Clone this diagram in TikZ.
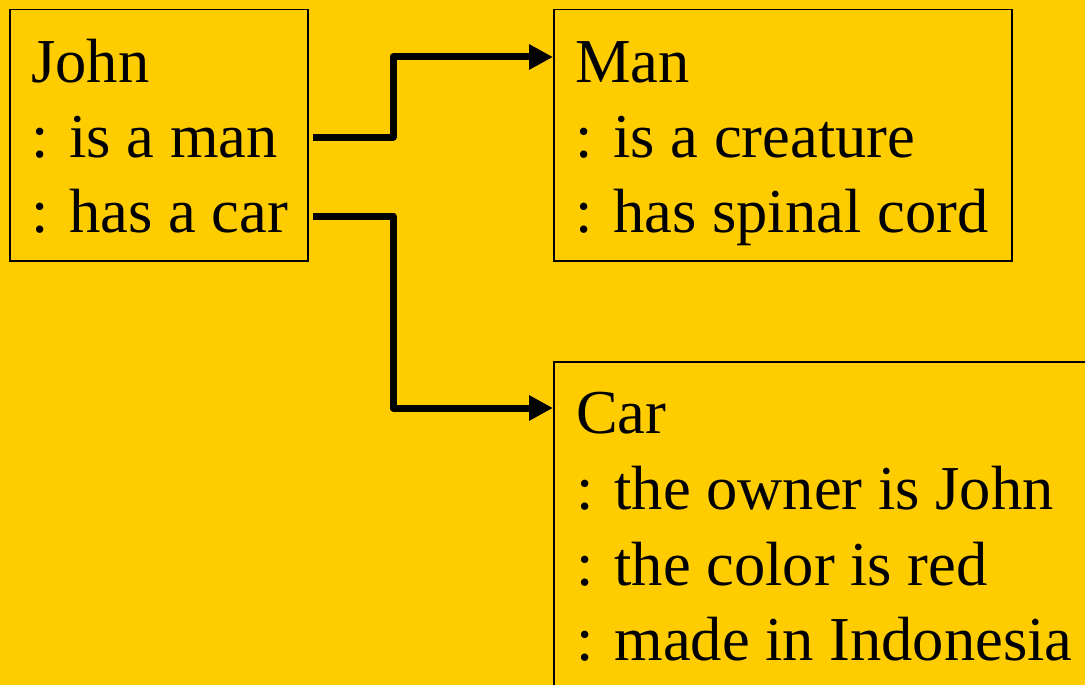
\documentclass[tikz,border=0pt]{standalone}
\usepackage{fontspec}
\setmainfont{Liberation Serif}
\usetikzlibrary{arrows.meta}
\definecolor{slideyellow}{HTML}{FFCC00}

\begin{document}
\begin{tikzpicture}[x=1pt,y=-1pt,
	box/.style={draw,line width=1.5pt,inner sep=0pt,anchor=north west},
	txt/.style={inner sep=0pt,anchor=base west,font=\fontsize{62.5}{75}\selectfont},
	link/.style={line width=7pt,line join=round,-{Triangle[length=24pt,width=24pt]}}]
	\useasboundingbox (0,0) rectangle (1085,685);
	\clip (0,0) rectangle (1085,685);
	\fill[slideyellow] (0,0) rectangle (1085,685);
	% frames
	\node[box,minimum width=298pt,minimum height=251pt] (john) at (9,9) {};
	\node[box,minimum width=458pt,minimum height=251pt] (man) at (553,9) {};
	\node[box,minimum width=600pt,minimum height=400pt] (car) at (553,361) {};
	% texts
	\node[txt] (john0) at (31,82) {John};
	\node[txt] (john1) at (31,157) {: is a man};
	\node[txt] (john2) at (31,232) {: has a car};
	\node[txt] (man0) at (575,82) {Man};
	\node[txt] (man1) at (575,157) {: is a creature};
	\node[txt] (man2) at (575,232) {: has spinal cord};
	\node[txt] (car0) at (576,433) {Car};
	\node[txt] (car1) at (576,509) {: the owner is John};
	\node[txt] (car2) at (576,585) {: the color is red};
	\node[txt] (car3) at (576,660) {: made in Indonesia};
	% links
	\coordinate (isman) at (313,137);
	\coordinate (hascar) at (313,216);
	\draw[link] (isman) -- ++(80,0) |- ([yshift=-48pt]man.north west);
	\draw[link] (hascar) -- ++(80,0) |- ([yshift=-47pt]car.north west);
\end{tikzpicture}
\end{document}
